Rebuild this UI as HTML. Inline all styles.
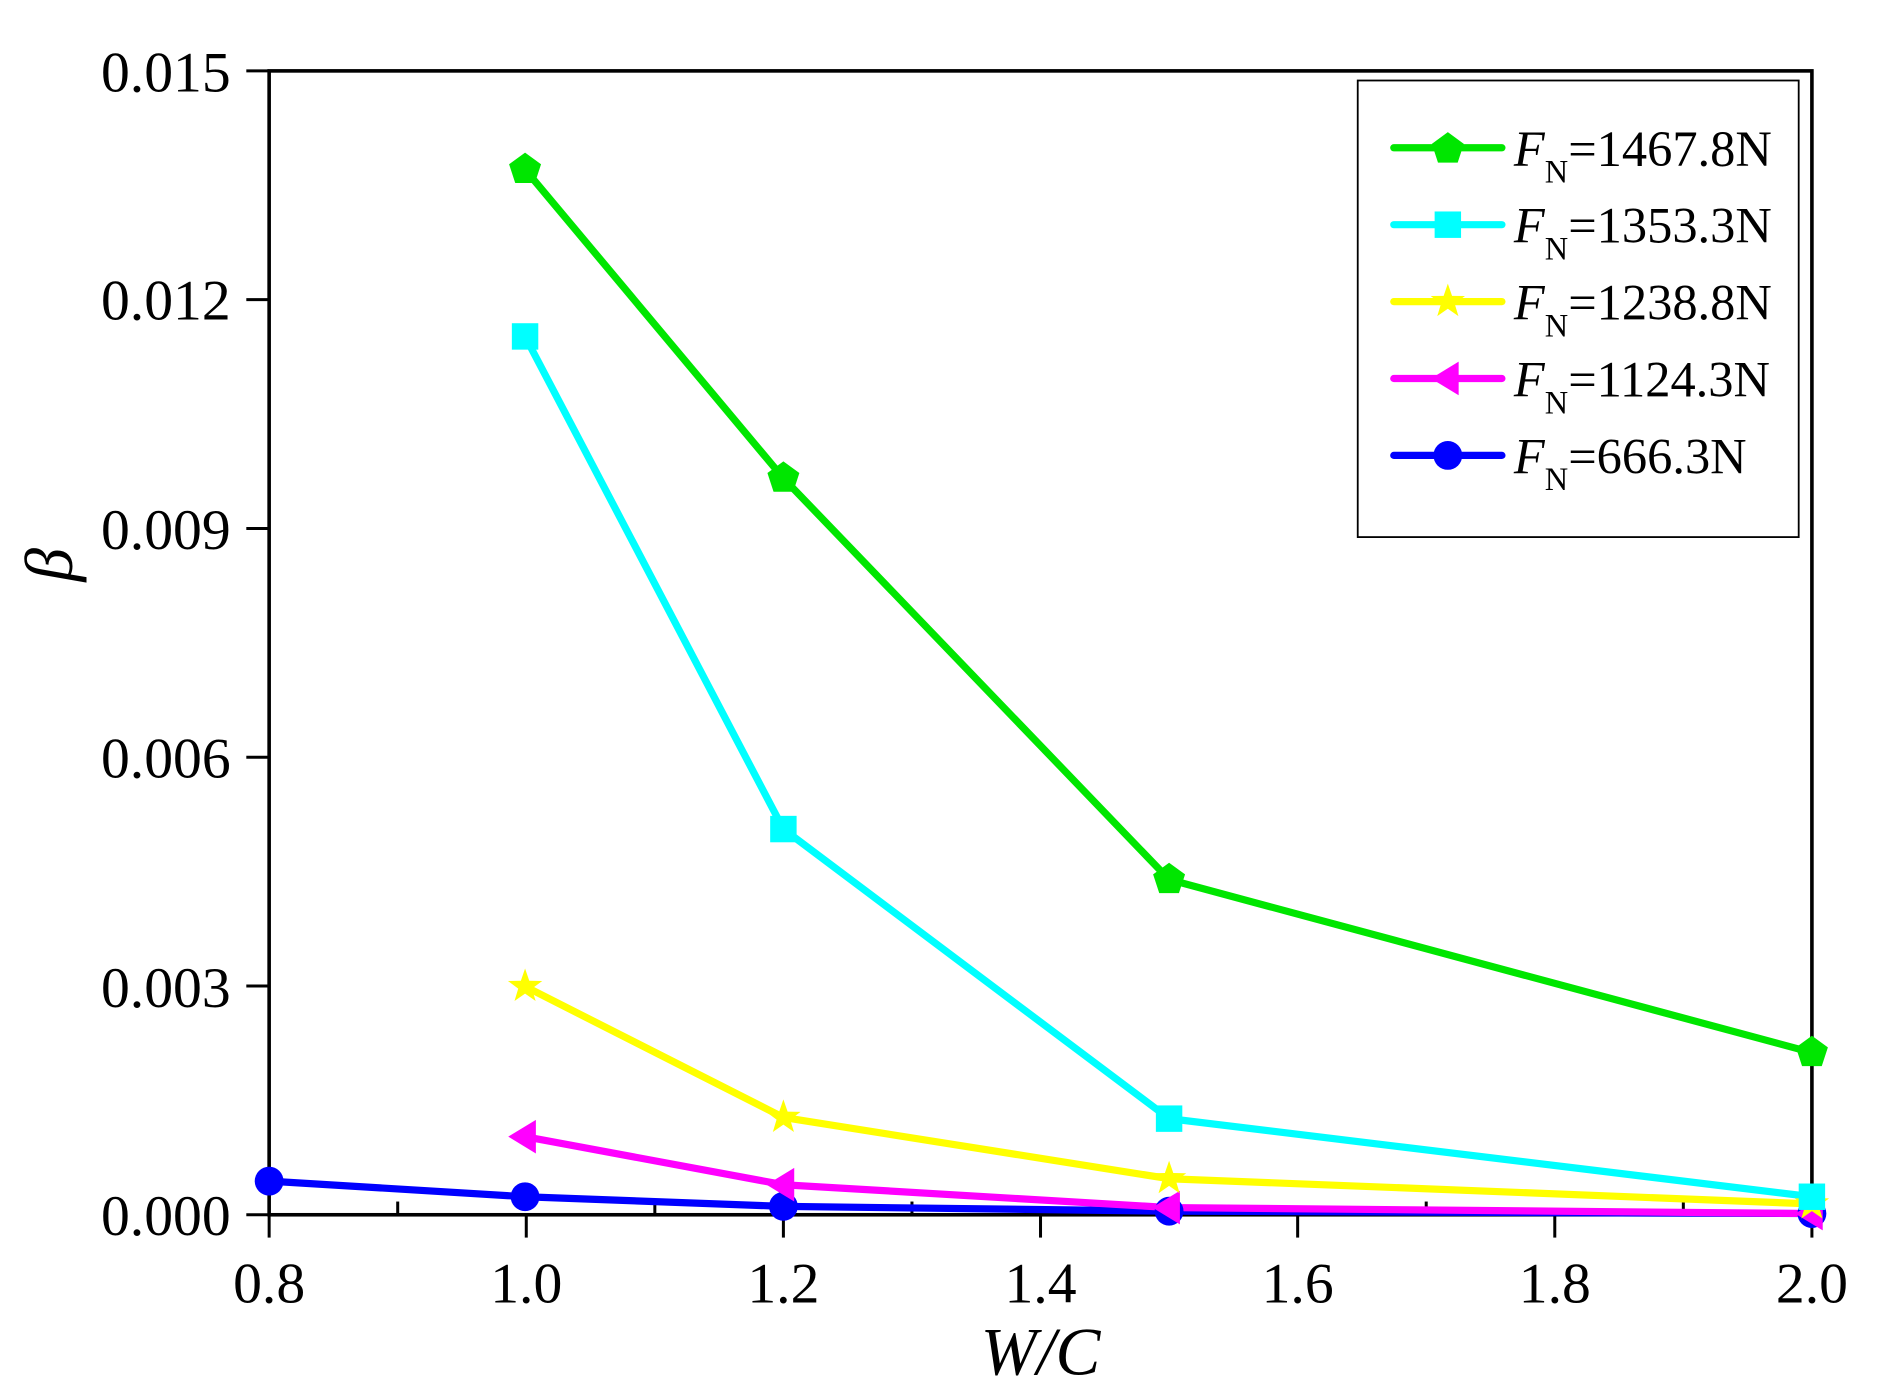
<!DOCTYPE html>
<html><head><meta charset="utf-8"><style>
html,body{margin:0;padding:0;background:#fff;width:1884px;height:1398px;overflow:hidden}
svg{display:block}
text{font-family:"Liberation Serif",serif;fill:#000}
</style></head><body>
<svg width="1884" height="1398" viewBox="0 0 1568 1163.5" preserveAspectRatio="none" xmlns="http://www.w3.org/2000/svg">
<defs>
<g id="pent"><polygon points="0,-14 13.3,-4.3 8.2,11.3 -8.2,11.3 -13.3,-4.3"/></g>
<g id="sq"><rect x="-11" y="-11" width="22" height="22"/></g>
<g id="star"><polygon points="0,-15 3.5,-4.8 14.3,-4.6 5.7,1.8 8.8,12.1 0,6 -8.8,12.1 -5.7,1.8 -14.3,-4.6 -3.5,-4.8"/></g>
<g id="tri"><polygon points="-14,0 9,-14 9,14"/></g>
<g id="circ"><circle r="12"/></g>
</defs>
<rect x="224" y="59" width="1284" height="952" fill="none" stroke="#000" stroke-width="3"/>
<g stroke="#000" stroke-width="2.5">
<line x1="224" y1="1011" x2="224" y2="1030"/><line x1="438" y1="1011" x2="438" y2="1030"/>
<line x1="652" y1="1011" x2="652" y2="1030"/><line x1="866" y1="1011" x2="866" y2="1030"/>
<line x1="1080" y1="1011" x2="1080" y2="1030"/><line x1="1294" y1="1011" x2="1294" y2="1030"/>
<line x1="1508" y1="1011" x2="1508" y2="1030"/>
<line x1="331" y1="1011" x2="331" y2="1000"/><line x1="545" y1="1011" x2="545" y2="1000"/>
<line x1="759" y1="1011" x2="759" y2="1000"/><line x1="973" y1="1011" x2="973" y2="1000"/>
<line x1="1187" y1="1011" x2="1187" y2="1000"/><line x1="1401" y1="1011" x2="1401" y2="1000"/>
<line x1="205" y1="59" x2="224" y2="59"/><line x1="205" y1="249.4" x2="224" y2="249.4"/>
<line x1="205" y1="439.8" x2="224" y2="439.8"/><line x1="205" y1="630.2" x2="224" y2="630.2"/>
<line x1="205" y1="820.6" x2="224" y2="820.6"/><line x1="205" y1="1011" x2="224" y2="1011"/>
</g>
<g font-size="48" text-anchor="end">
<text x="192" y="76">0.015</text><text x="192" y="266">0.012</text><text x="192" y="457">0.009</text>
<text x="192" y="647">0.006</text><text x="192" y="838">0.003</text><text x="192" y="1028">0.000</text>
</g>
<g font-size="48" text-anchor="middle">
<text x="224" y="1084">0.8</text><text x="438" y="1084">1.0</text><text x="652" y="1084">1.2</text>
<text x="866" y="1084">1.4</text><text x="1080" y="1084">1.6</text><text x="1294" y="1084">1.8</text>
<text x="1508" y="1084">2.0</text>
<text x="866" y="1144" font-style="italic" font-size="56">W/C</text>
</g>
<text x="0" y="0" font-size="56" font-style="italic" transform="translate(60,470) rotate(-90)" text-anchor="middle">β</text>
<g fill="none" stroke-width="6" stroke-linejoin="round">
<polyline stroke="#0000ff" points="224,983 437,996 652,1004 973,1008 1508,1010"/>
<polyline stroke="#ff00ff" points="437,946 652,986 973,1005 1508,1010"/>
<polyline stroke="#ffff00" points="437,821 652,930 973,981 1508,1002"/>
<polyline stroke="#00ffff" points="437,280 652,690 973,931 1508,996"/>
<polyline stroke="#00e600" points="437,141 652,398 973,732 1508,876"/>
</g>
<g fill="#0000ff"><use href="#circ" x="224" y="983"/><use href="#circ" x="437" y="996"/><use href="#circ" x="652" y="1004"/><use href="#circ" x="973" y="1008"/><use href="#circ" x="1508" y="1010"/></g>
<g fill="#ff00ff"><use href="#tri" x="437" y="946"/><use href="#tri" x="652" y="986"/><use href="#tri" x="973" y="1005"/><use href="#tri" x="1508" y="1010"/></g>
<g fill="#ffff00"><use href="#star" x="437" y="821"/><use href="#star" x="652" y="930"/><use href="#star" x="973" y="981"/><use href="#star" x="1508" y="1002"/></g>
<g fill="#00ffff"><use href="#sq" x="437" y="280"/><use href="#sq" x="652" y="690"/><use href="#sq" x="973" y="931"/><use href="#sq" x="1508" y="996"/></g>
<g fill="#00e600"><use href="#pent" x="437" y="141"/><use href="#pent" x="652" y="398"/><use href="#pent" x="973" y="732"/><use href="#pent" x="1508" y="876"/></g>
<rect x="1130" y="67" width="367" height="380" fill="#fff" stroke="#000" stroke-width="1.5"/>
<g stroke-width="6" stroke-linecap="round">
<line x1="1160" y1="123" x2="1250" y2="123" stroke="#00e600"/>
<line x1="1160" y1="187" x2="1250" y2="187" stroke="#00ffff"/>
<line x1="1160" y1="251" x2="1250" y2="251" stroke="#ffff00"/>
<line x1="1160" y1="315" x2="1250" y2="315" stroke="#ff00ff"/>
<line x1="1160" y1="379" x2="1250" y2="379" stroke="#0000ff"/>
</g>
<use href="#pent" x="1205" y="124" fill="#00e600"/>
<use href="#sq" x="1205" y="187" fill="#00ffff"/>
<use href="#star" x="1205" y="251" fill="#ffff00"/>
<use href="#tri" x="1205" y="315" fill="#ff00ff"/>
<use href="#circ" x="1205" y="379" fill="#0000ff"/>
<g font-size="42">
<text x="1260" y="138"><tspan font-style="italic">F</tspan><tspan font-size="27" dy="14">N</tspan><tspan dy="-14">=1467.8N</tspan></text>
<text x="1260" y="202"><tspan font-style="italic">F</tspan><tspan font-size="27" dy="14">N</tspan><tspan dy="-14">=1353.3N</tspan></text>
<text x="1260" y="266"><tspan font-style="italic">F</tspan><tspan font-size="27" dy="14">N</tspan><tspan dy="-14">=1238.8N</tspan></text>
<text x="1260" y="330"><tspan font-style="italic">F</tspan><tspan font-size="27" dy="14">N</tspan><tspan dy="-14">=1124.3N</tspan></text>
<text x="1260" y="394"><tspan font-style="italic">F</tspan><tspan font-size="27" dy="14">N</tspan><tspan dy="-14">=666.3N</tspan></text>
</g>
</svg>
</body></html>
